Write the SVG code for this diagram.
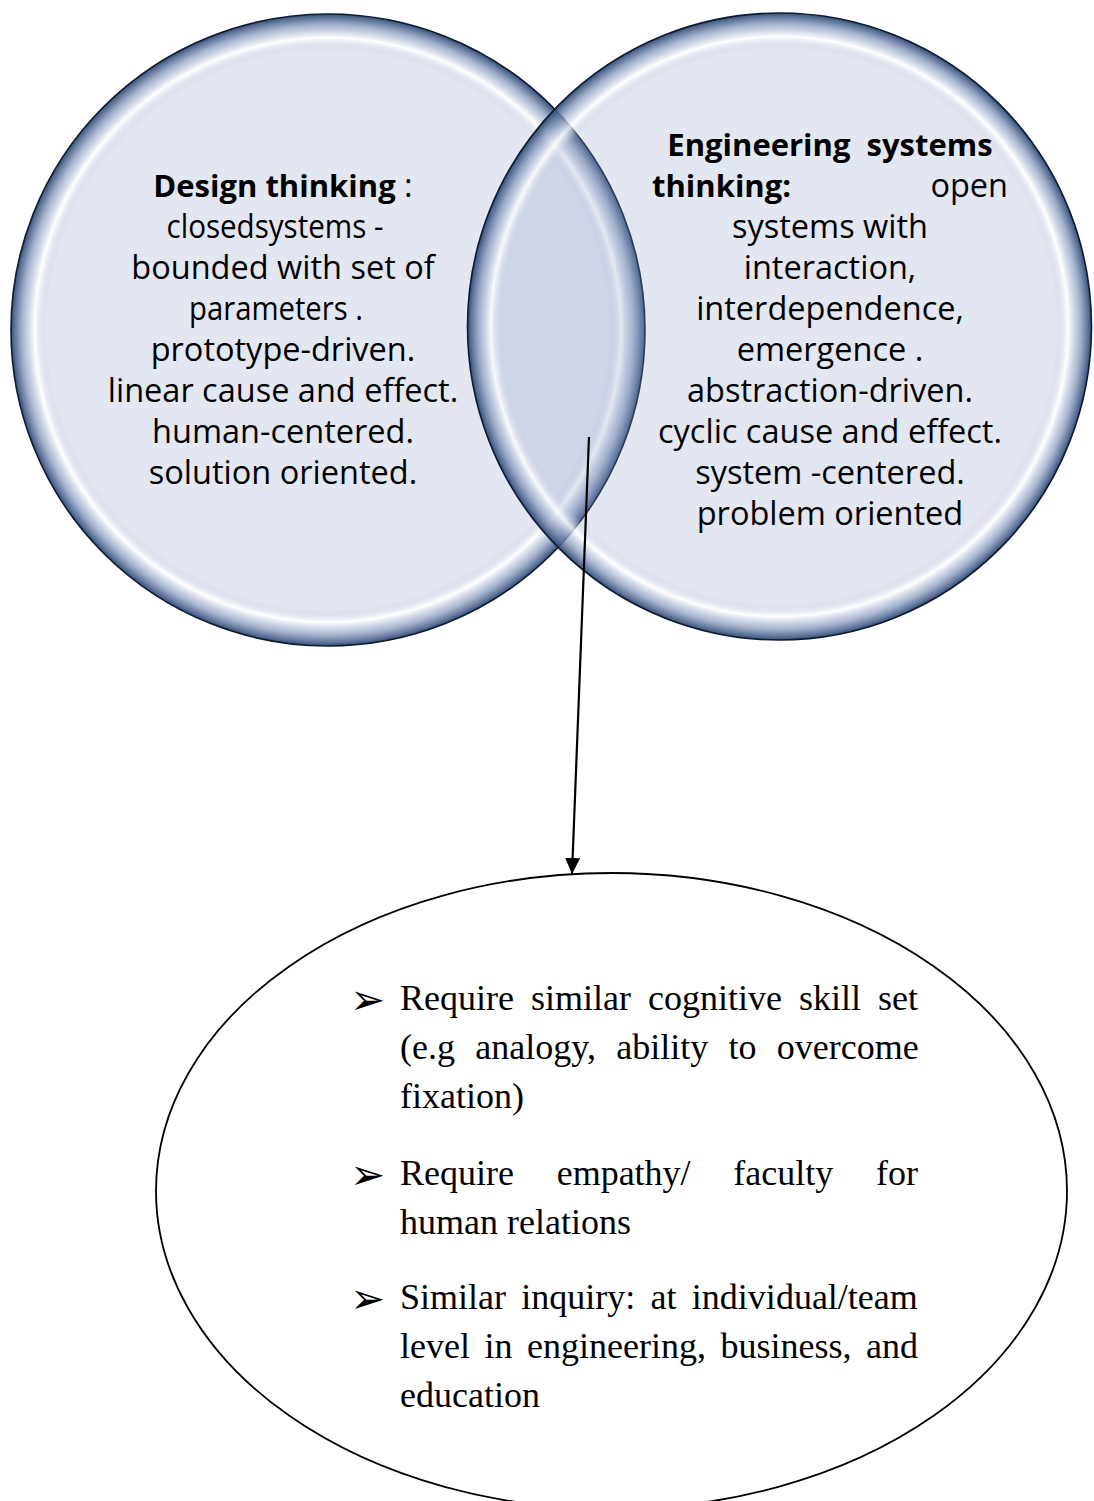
<svg xmlns="http://www.w3.org/2000/svg" width="1094" height="1501" viewBox="0 0 1094 1501">
<defs>
<radialGradient id="bevel" cx="0.5" cy="0.5" r="0.5">
<stop offset="0" stop-color="#8F9FC7" stop-opacity="0.25"/>
<stop offset="0.885" stop-color="#8F9FC7" stop-opacity="0.25"/>
<stop offset="0.925" stop-color="#FFFFFF" stop-opacity="0.8"/>
<stop offset="0.96" stop-color="#8FA1C4" stop-opacity="0.7"/>
<stop offset="1" stop-color="#2B4672" stop-opacity="0.95"/>
</radialGradient>
<marker id="arrow" viewBox="0 0 16 15" refX="16" refY="7.5" markerWidth="16" markerHeight="15" markerUnits="userSpaceOnUse" orient="auto">
<path d="M0,0 L16,7.5 L0,15 z" fill="#000"/>
</marker>
<style>
.circ{fill:url(#bevel);stroke:#0E1B30;stroke-width:1.6}
.t{font-family:"Open Sans","Liberation Sans",sans-serif;font-size:32.5px;fill:#000;text-anchor:middle}
.b{font-weight:bold;font-size:31px}
.s{font-family:"Liberation Serif","Times New Roman",serif;font-size:36px;fill:#000}
.bul{font-family:"DejaVu Sans",sans-serif;font-size:42px;fill:#000}
.conn{stroke:#000;stroke-width:2.2;fill:none}
</style>
</defs>
<g id="design-thinking">
<ellipse class="circ" cx="328" cy="330" rx="317" ry="316"/>
</g>
<g id="engineering-systems-thinking">
<ellipse class="circ" cx="779.5" cy="326.5" rx="312" ry="313.5"/>
</g>
<g id="design-thinking-text">
<text class="t" x="283" y="197"><tspan class="b">Design thinking</tspan> :</text>
<text class="t" x="275" y="238" textLength="217" lengthAdjust="spacingAndGlyphs">closedsystems -</text>
<text class="t" x="283" y="279">bounded with set of</text>
<text class="t" x="276" y="320" textLength="174" lengthAdjust="spacingAndGlyphs">parameters .</text>
<text class="t" x="283" y="361">prototype-driven.</text>
<text class="t" x="283" y="402">linear cause and effect.</text>
<text class="t" x="283" y="443">human-centered.</text>
<text class="t" x="283" y="484">solution oriented.</text>
</g>
<g id="engineering-text">
<text class="t b" x="830" y="156" xml:space="preserve">Engineering  systems</text>
<text class="t" y="197"><tspan class="b" x="652" style="text-anchor:start">thinking:</tspan></text>
<text class="t" x="1008" y="197" style="text-anchor:end">open</text>
<text class="t" x="830" y="238">systems with</text>
<text class="t" x="830" y="279">interaction,</text>
<text class="t" x="830" y="320">interdependence,</text>
<text class="t" x="830" y="361">emergence .</text>
<text class="t" x="830" y="402">abstraction-driven.</text>
<text class="t" x="830" y="443">cyclic cause and effect.</text>
<text class="t" x="830" y="484">system -centered.</text>
<text class="t" x="830" y="525">problem oriented</text>
</g>
<g id="connectors">
<line class="conn" x1="589" y1="437" x2="572" y2="874" marker-end="url(#arrow)"/>
</g>
<g id="similarities">
<ellipse cx="611.5" cy="1191" rx="455.5" ry="318" fill="#FFFFFF" stroke="#000" stroke-width="1.8"/>
<text class="bul" x="350" y="1014">➢</text>
<text class="s" x="400" y="1010" word-spacing="8">Require similar cognitive skill set</text>
<text class="s" x="400" y="1059" word-spacing="11.3">(e.g analogy, ability to overcome</text>
<text class="s" x="400" y="1108">fixation)</text>
<text class="bul" x="350" y="1189">➢</text>
<text class="s" x="400" y="1185" word-spacing="33.7">Require empathy/ faculty for</text>
<text class="s" x="400" y="1234">human relations</text>
<text class="bul" x="350" y="1313">➢</text>
<text class="s" x="400" y="1309" word-spacing="6.3">Similar inquiry: at individual/team</text>
<text class="s" x="400" y="1358" word-spacing="5.5">level in engineering, business, and</text>
<text class="s" x="400" y="1407">education</text>
</g>
</svg>
